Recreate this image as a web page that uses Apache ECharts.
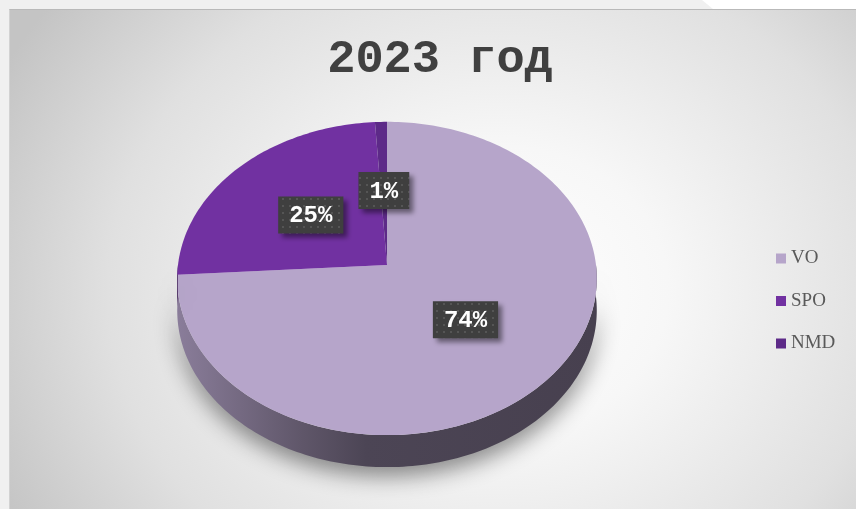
<!DOCTYPE html>
<html>
<head>
<meta charset="utf-8">
<script src="https://cdn.jsdelivr.net/npm/echarts@6/dist/echarts.min.js"></script>
<style>
  body{margin:0;background:#efefef}
  #wrap{position:relative;width:856px;height:509px;overflow:hidden;background:#f0f0f0}
  #corner{position:absolute;left:702px;top:0;width:154px;height:9px;background:#fff;
          clip-path:polygon(0 0,100% 0,100% 100%,11px 100%)}
  #plot{position:absolute;left:9px;top:9px;right:0;bottom:0;
        border-top:1px solid #b9b9b9;border-left:1px solid #d2d2d2;
        background:radial-gradient(ellipse 560px 480px at 490px 280px,#ffffff 0%,#f7f7f7 30%,#e0e0e0 70%,#c4c4c4 100%)}
  #main{position:absolute;left:0;top:0;width:856px;height:509px}
</style>
</head>
<body>
<div id="wrap">
  <div id="corner"></div>
  <div id="plot"></div>
  <div id="main"></div>
</div>
<script>
// данные
var categories = ['VO', 'SPO', 'NMD'];
var values = [74, 25, 1];
var titleText = '2023 год';

// стиль
var colors = ['#b6a5ca', '#7131a1', '#5d2a88'];
var CX = 387, CY = 265, RX = 209, RY = 155.5, P = 0.086, DEPTH = 32;

var total = values.reduce(function(a, b){ return a + b; }, 0);
var starts = [];
values.reduce(function(acc, v, i){ starts[i] = acc; return acc + v; }, 0);

// perspective projection of a point on the pie top (theta clockwise from 12 o'clock)
function proj(theta, r){
    var u = r * Math.sin(theta), v = -r * Math.cos(theta), d = 1 - P * v;
    return [CX + RX * u / d, CY + RY * v / d];
}
function arc(a0, a1, r){
    var pts = [], n = Math.max(2, Math.ceil((a1 - a0) / 0.02));
    for (var k = 0; k <= n; k++) pts.push(proj(a0 + (a1 - a0) * k / n, r));
    return pts;
}
function shade(hex, f){
    var n = parseInt(hex.slice(1), 16);
    var r = Math.round(((n >> 16) & 255) * f), g = Math.round(((n >> 8) & 255) * f), b = Math.round((n & 255) * f);
    return 'rgb(' + r + ',' + g + ',' + b + ')';
}

// точечная заливка подписей
var pat = document.createElement('canvas');
pat.width = 7; pat.height = 7;
var pc = pat.getContext('2d');
pc.fillStyle = '#3f3f3f'; pc.fillRect(0, 0, 7, 7);
pc.fillStyle = '#555555'; pc.fillRect(2, 2, 2, 2);

var LABEL_FONT = 'bold 24px "Liberation Mono"';
var measure = document.createElement('canvas').getContext('2d');
measure.font = LABEL_FONT;

var renderSlice = function(params, api){
    var i = params.seriesIndex;
    var a0 = starts[i] / total * 2 * Math.PI;
    var a1 = (starts[i] + values[i]) / total * 2 * Math.PI;
    var children = [];

    // боковая стенка (видна только передняя половина)
    var s0 = Math.max(a0, Math.PI / 2), s1 = Math.min(a1, 3 * Math.PI / 2);
    if (s1 > s0){
        var top = arc(s0, s1, 1);
        var bottom = top.map(function(p){ return [p[0], p[1] + DEPTH]; }).reverse();
        children.push({
            type: 'polygon',
            shape: {points: top.concat(bottom)},
            style: {
                fill: {type: 'linear', x: 0, y: 0, x2: 1, y2: 0, colorStops: [
                    {offset: 0, color: shade(colors[i], 0.76)},
                    {offset: 0.3, color: shade(colors[i], 0.52)},
                    {offset: 0.45, color: shade(colors[i], 0.42)},
                    {offset: 1, color: shade(colors[i], 0.39)}
                ]},
                shadowBlur: 22, shadowOffsetY: 9, shadowColor: 'rgba(0,0,0,0.45)'
            }
        });
    }

    // верхняя грань
    children.push({
        type: 'polygon',
        shape: {points: [[CX, CY]].concat(arc(a0, a1, 1))},
        style: {fill: colors[i]}
    });

    // подпись
    var txt = Math.round(values[i] / total * 100) + '%';
    var c = proj((a0 + a1) / 2, 0.5);
    var w = measure.measureText(txt).width + 22, h = 37;
    children.push({
        type: 'rect',
        shape: {x: c[0] - w / 2, y: c[1] - h / 2, width: w, height: h},
        style: {fill: {image: pat, repeat: 'repeat'}, shadowBlur: 5, shadowOffsetX: 4, shadowOffsetY: 4, shadowColor: 'rgba(0,0,0,0.45)'},
        z2: 10
    });
    children.push({
        type: 'text',
        style: {text: txt, x: c[0], y: c[1] + 1, align: 'center', verticalAlign: 'middle', fill: '#ffffff', font: LABEL_FONT},
        z2: 11
    });
    return {type: 'group', children: children};
};

var chart = echarts.init(document.getElementById('main'), null, {renderer: 'canvas'});
chart.setOption({
    animation: false,
    title: {
        text: titleText, left: 435, top: 32, textAlign: 'center',
        textStyle: {fontFamily: 'Liberation Mono', fontWeight: 'bold', fontSize: 47, color: '#404040'}
    },
    legend: {
        data: categories, orient: 'vertical', left: 776, top: 249, padding: 0,
        icon: 'rect', itemWidth: 10, itemHeight: 10, itemGap: 23.5,
        textStyle: {fontFamily: 'Liberation Serif', fontSize: 19, color: '#595959'}
    },
    series: categories.map(function(name, i){
        return {
            type: 'custom', name: name, coordinateSystem: 'none',
            renderItem: renderSlice, data: [values[i]],
            itemStyle: {color: colors[i]}, silent: true
        };
    })
});
</script>
</body>
</html>
